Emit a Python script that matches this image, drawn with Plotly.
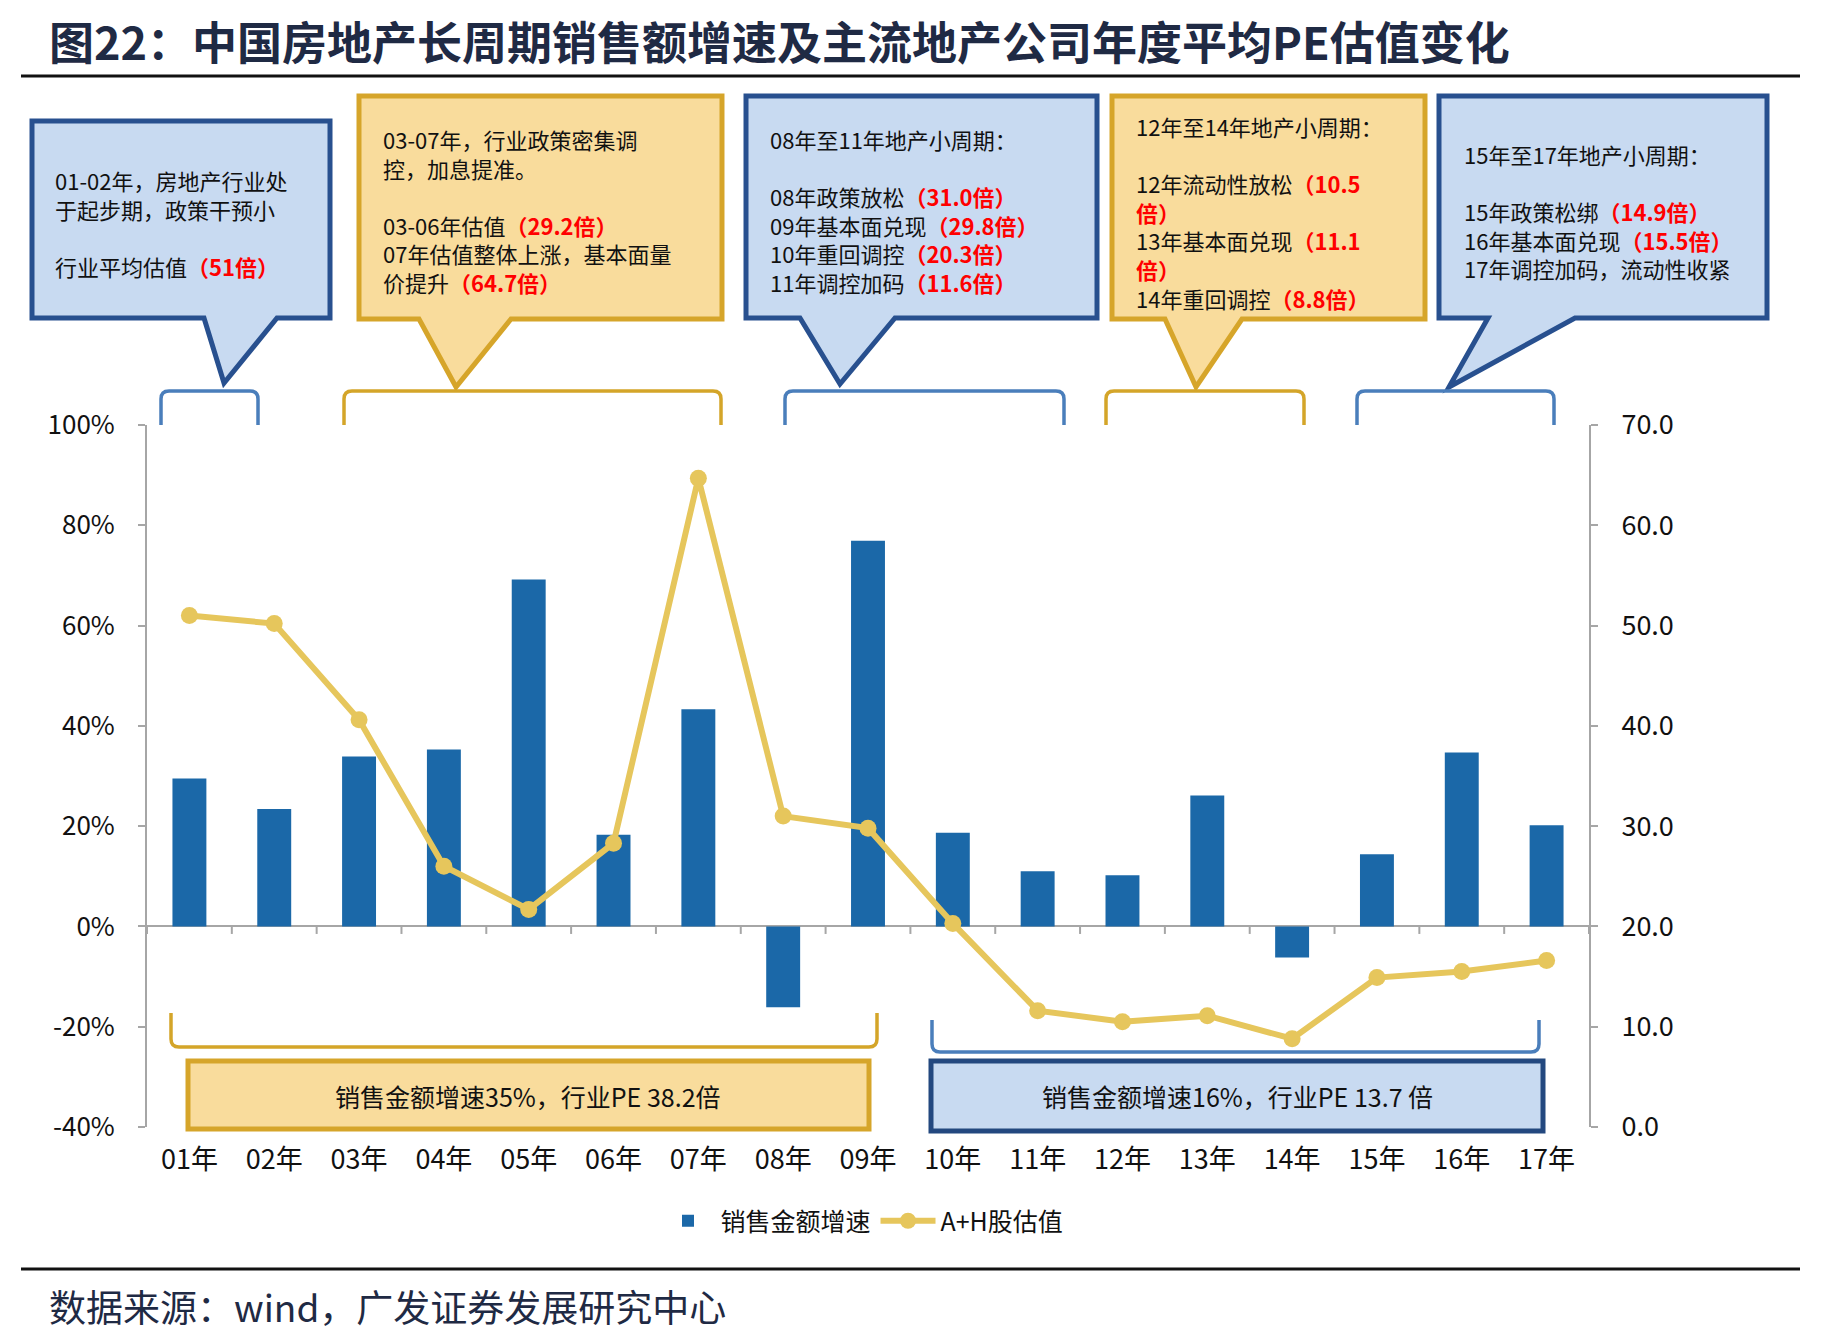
import plotly.graph_objects as go

years = ['01年', '02年', '03年', '04年', '05年', '06年', '07年', '08年', '09年',
         '10年', '11年', '12年', '13年', '14年', '15年', '16年', '17年']
sales_growth = [29.5, 23.4, 33.9, 35.3, 69.2, 18.3, 43.3, -16.1, 76.9,
                18.7, 11.0, 10.2, 26.1, -6.2, 14.4, 34.7, 20.2]
pe_ah = [51.0, 50.2, 40.6, 26.0, 21.7, 28.3, 64.7, 31.0, 29.8,
         20.3, 11.6, 10.5, 11.1, 8.8, 14.9, 15.5, 16.6]
left_ticks = [-40, -20, 0, 20, 40, 60, 80, 100]
left_labels = [f'{v}%' for v in left_ticks]

title_text = '图22：中国房地产长周期销售额增速及主流地产公司年度平均PE估值变化'
source_text = '数据来源：wind，广发证券发展研究中心'

W, H = 1839, 1343
PL, PR, PT, PB = 147, 1589, 425, 1127

def px(x):
    return (x - PL) / (PR - PL)

def py(y):
    return (PB - y) / (PB - PT)

def pt(x, y):
    return f'{px(x):.5f},{py(y):.5f}'

FONT = 'Noto Sans CJK SC'
BLUE_FILL, BLUE_LINE = '#C8DAF1', '#28508F'
GOLD_FILL, GOLD_LINE = '#F9DC9C', '#D6A52A'
BLUE_BRACKET, GOLD_BRACKET = '#4A7EBB', '#D4A529'
AXIS_GRAY = '#A6A6A6'

fig = go.Figure()
fig.add_trace(go.Bar(x=years, y=sales_growth, name='销售金额增速',
                     marker=dict(color='#1B68A8', line=dict(width=0)), yaxis='y'))
fig.add_trace(go.Scatter(x=years, y=pe_ah, name='A+H股估值', mode='lines+markers',
                         line=dict(color='#E6C65C', width=6),
                         marker=dict(color='#E6C65C', size=17), yaxis='y2'))

shapes = []

# small ticks on the zero line between categories
for i in range(len(years) + 1):
    shapes.append(dict(type='line', xref='x', yref='y', x0=i - 0.5, x1=i - 0.5,
                       y0=0, y1=-1.5, line=dict(color=AXIS_GRAY, width=2), layer='below'))

# callout boxes (pixel positions)
callouts = [
    (32, 121, 330, 318, 204, 277, (224, 383), BLUE_FILL, BLUE_LINE),
    (359, 96, 722, 319, 419, 511, (456, 387), GOLD_FILL, GOLD_LINE),
    (746, 96, 1097, 318, 800, 895, (840, 384), BLUE_FILL, BLUE_LINE),
    (1112, 96, 1425, 319, 1165, 1242, (1196, 387), GOLD_FILL, GOLD_LINE),
    (1439, 96, 1767, 318, 1488, 1575, (1449, 387), BLUE_FILL, BLUE_LINE),
]
for x0, y0, x1, y1, bl, br, tip, fc, lc in callouts:
    path = (f'M {pt(x0, y0)} L {pt(x1, y0)} L {pt(x1, y1)} L {pt(br, y1)} '
            f'L {pt(*tip)} L {pt(bl, y1)} L {pt(x0, y1)} Z')
    shapes.append(dict(type='path', xref='paper', yref='paper', path=path,
                       fillcolor=fc, line=dict(color=lc, width=5)))

def bracket(x0, x1, ya, yb, color, r=8):
    s = 1 if yb > ya else -1
    return dict(type='path', xref='paper', yref='paper',
                path=(f'M {pt(x0, yb)} L {pt(x0, ya + s * r)} Q {pt(x0, ya)} {pt(x0 + r, ya)} '
                      f'L {pt(x1 - r, ya)} Q {pt(x1, ya)} {pt(x1, ya + s * r)} L {pt(x1, yb)}'),
                line=dict(color=color, width=3.5))

for x0, x1, c in [(161, 258, BLUE_BRACKET), (344, 721, GOLD_BRACKET),
                  (785, 1064, BLUE_BRACKET), (1106, 1304, GOLD_BRACKET),
                  (1357, 1554, BLUE_BRACKET)]:
    shapes.append(bracket(x0, x1, 391, 425, c))

shapes.append(bracket(171, 877, 1047, 1013, GOLD_BRACKET))
shapes.append(bracket(932, 1539, 1052, 1020, BLUE_BRACKET))

# bottom summary boxes
shapes.append(dict(type='rect', xref='paper', yref='paper', x0=px(188), x1=px(869),
                   y0=py(1129), y1=py(1061), fillcolor=GOLD_FILL,
                   line=dict(color=GOLD_LINE, width=5)))
shapes.append(dict(type='rect', xref='paper', yref='paper', x0=px(931), x1=px(1543),
                   y0=py(1131), y1=py(1061), fillcolor=BLUE_FILL,
                   line=dict(color='#23487F', width=5)))

# header / footer rules
shapes.append(dict(type='line', xref='paper', yref='paper', x0=px(21), x1=px(1800),
                   y0=py(76), y1=py(76), line=dict(color='#111111', width=3)))
shapes.append(dict(type='line', xref='paper', yref='paper', x0=px(21), x1=px(1800),
                   y0=py(1269), y1=py(1269), line=dict(color='#111111', width=3)))

def red(s):
    return f"<span style='color:#FF0000'><b>{s}</b></span>"

box_texts = [
    (53, 162, '01-02年，房地产行业处<br>于起步期，政策干预小<br><br>行业平均估值' + red('（51倍）')),
    (381, 121, '03-07年，行业政策密集调<br>控，加息提准。<br><br>03-06年估值' + red('（29.2倍）')
     + '<br>07年估值整体上涨，基本面量<br>价提升' + red('（64.7倍）')),
    (768, 121, '08年至11年地产小周期：<br><br>08年政策放松' + red('（31.0倍）')
     + '<br>09年基本面兑现' + red('（29.8倍）') + '<br>10年重回调控' + red('（20.3倍）')
     + '<br>11年调控加码' + red('（11.6倍）')),
    (1134, 108, '12年至14年地产小周期：<br><br>12年流动性放松' + red('（10.5')
     + '<br>' + red('倍）') + '<br>13年基本面兑现' + red('（11.1') + '<br>' + red('倍）')
     + '<br>14年重回调控' + red('（8.8倍）')),
    (1462, 136, '15年至17年地产小周期：<br><br>15年政策松绑' + red('（14.9倍）')
     + '<br>16年基本面兑现' + red('（15.5倍）') + '<br>17年调控加码，流动性收紧'),
]

annotations = []
for x, y, t in box_texts:
    annotations.append(dict(xref='paper', yref='paper', x=px(x), y=py(y), text=t,
                            xanchor='left', yanchor='top', align='left', showarrow=False,
                            font=dict(family=FONT, size=22, color='#111111')))

annotations.append(dict(xref='paper', yref='paper', x=px(528), y=py(1096),
                        xanchor='center', yanchor='middle',
                        text='销售金额增速35%，行业PE 38.2倍', showarrow=False,
                        font=dict(family=FONT, size=25, color='#111111')))
annotations.append(dict(xref='paper', yref='paper', x=px(1237), y=py(1096),
                        xanchor='center', yanchor='middle',
                        text='销售金额增速16%，行业PE 13.7 倍', showarrow=False,
                        font=dict(family=FONT, size=25, color='#111111')))
annotations.append(dict(xref='paper', yref='paper', x=px(47), y=py(41), text=f'<b>{title_text}</b>',
                        xanchor='left', yanchor='middle', showarrow=False,
                        font=dict(family=FONT, size=45, color='#1F2A44')))
annotations.append(dict(xref='paper', yref='paper', x=px(47), y=py(1306), text=source_text,
                        xanchor='left', yanchor='middle', showarrow=False,
                        font=dict(family=FONT, size=37, color='#1F2A44')))

fig.update_layout(
    width=W, height=H,
    margin=dict(l=PL, r=W - PR, t=PT, b=H - PB, pad=0),
    paper_bgcolor='white', plot_bgcolor='white',
    font=dict(family=FONT, size=24, color='#111111'),
    bargap=0.6,
    showlegend=True,
    legend=dict(orientation='h', x=px(862), y=py(1221), xanchor='center', yanchor='middle',
                font=dict(family=FONT, size=25, color='#111111'), itemwidth=55),
    xaxis=dict(range=[-0.5, len(years) - 0.5], showgrid=False, showline=False, ticks='',
               zeroline=False, tickfont=dict(size=27), ticklabelstandoff=14),
    yaxis=dict(range=[-40, 100], tickvals=left_ticks, ticktext=left_labels, showgrid=False,
               zeroline=True, zerolinecolor=AXIS_GRAY, zerolinewidth=2, showline=True,
               linecolor=AXIS_GRAY, linewidth=2, ticks='outside', ticklen=7,
               tickcolor=AXIS_GRAY, tickwidth=2, tickfont=dict(size=26), ticklabelstandoff=18),
    yaxis2=dict(range=[0, 70], dtick=10, tickformat='.1f', overlaying='y', side='right',
                showgrid=False, zeroline=False, showline=True, linecolor=AXIS_GRAY,
                linewidth=2, ticks='outside', ticklen=7, tickcolor=AXIS_GRAY, tickwidth=2,
                tickfont=dict(size=27), ticklabelstandoff=18),
    shapes=shapes,
    annotations=annotations,
)

fig.write_html('out.html', config={'displayModeBar': False},
               post_script="document.body.style.margin='0';")
